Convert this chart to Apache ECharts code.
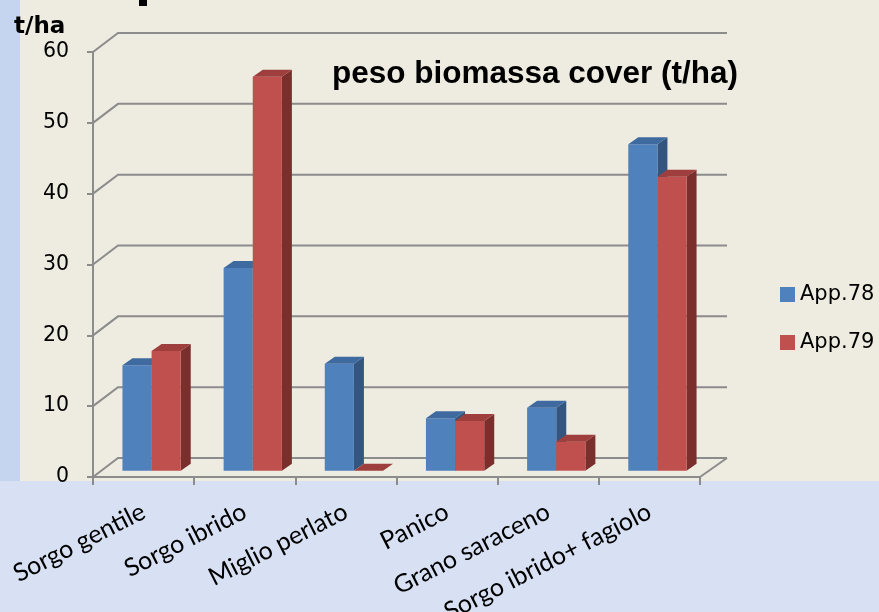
<!DOCTYPE html>
<html>
<head>
<meta charset="utf-8">
<script src="https://cdn.jsdelivr.net/npm/echarts@6/dist/echarts.min.js"></script>
<style>html,body{margin:0;padding:0;background:#EEEBE0;}#c{width:879px;height:612px;}</style>
</head>
<body>
<div id="c"></div>
<script>
const categories = ['Sorgo gentile', 'Sorgo ibrido', 'Miglio perlato', 'Panico', 'Grano saraceno', 'Sorgo ibrido+ fagiolo'];
const app78 = [14.9, 28.6, 15.1, 7.4, 8.9, 46.1];
const app79 = [16.9, 55.6, 0, 7.0, 4.1, 41.5];
const yTicks = [0, 10, 20, 30, 40, 50, 60];
const seriesNames = ['App.78', 'App.79'];

const WALL_DX = 25, WALL_DY = -19, WALL_END_DX = 27;
const BAR_FX = 8, BAR_FY = -6.3, BAR_DX = 10, BAR_DY = -7;
const GRID_COLOR = '#8C8C8C';
const faces = [
  {front: '#4F81BD', top: '#3E6A9F', side: '#33557F'},
  {front: '#C0504D', top: '#9E3F3D', side: '#7A2F2D'}
];

function wallRender(params, api) {
  const cs = params.coordSys;
  const v = api.value(1);
  const y = api.coord([0, v])[1];
  const x0 = cs.x, x1 = cs.x + cs.width;
  const children = [{
    type: 'polyline',
    shape: {points: [[x0, y], [x0 + WALL_DX, y + WALL_DY], [x1 + WALL_END_DX, y + WALL_DY]]},
    style: {stroke: GRID_COLOR, lineWidth: 2, fill: null}
  }];
  if (v === 0) {
    children.push({
      type: 'line',
      shape: {x1: x1, y1: y, x2: x1 + WALL_END_DX, y2: y + WALL_DY},
      style: {stroke: GRID_COLOR, lineWidth: 2}
    });
  }
  return {type: 'group', children: children};
}

function barRender(s) {
  return function (params, api) {
    const i = api.value(0), v = api.value(1);
    const band = api.size([1, 0])[0];
    const c = api.coord([i, v]);
    const b = api.coord([i, 0]);
    const bw = band * 0.288;
    const pc = c[0] + BAR_FX;
    const x0 = s === 0 ? pc - bw : pc;
    const x1 = x0 + bw;
    const yT = c[1] + BAR_FY;
    const yB = b[1] + BAR_FY;
    const f = faces[s];
    return {
      type: 'group',
      children: [
        {type: 'polygon', shape: {points: [[x1, yT], [x1 + BAR_DX, yT + BAR_DY], [x1 + BAR_DX, yB + BAR_DY], [x1, yB]]}, style: {fill: f.side}},
        {type: 'rect', shape: {x: x0, y: yT, width: bw, height: Math.max(0, yB - yT)}, style: {fill: f.front}},
        {type: 'polygon', shape: {points: [[x0, yT], [x1, yT], [x1 + BAR_DX, yT + BAR_DY], [x0 + BAR_DX, yT + BAR_DY]]}, style: {fill: f.top}}
      ]
    };
  };
}

const chart = echarts.init(document.getElementById('c'), null, {renderer: 'canvas'});
chart.setOption({
  animation: false,
  backgroundColor: '#EEEBE0',
  graphic: [
    {type: 'rect', z: -10, shape: {x: 0, y: 0, width: 20, height: 481}, style: {fill: '#C5D4EF'}},
    {type: 'rect', z: -10, shape: {x: 0, y: 481, width: 879, height: 131}, style: {fill: '#D8E1F3'}},
    {type: 'rect', z: 5, shape: {x: 139, y: 0, width: 8, height: 6}, style: {fill: '#000'}},
    {type: 'text', z: 5, x: 14, y: 27, style: {text: 't/ha', font: 'bold 23px "DejaVu Sans"', fill: '#000', textVerticalAlign: 'middle'}},
    {type: 'text', z: 5, x: 535, y: 74, style: {text: 'peso biomassa cover (t/ha)', font: 'bold 31.5px "Liberation Sans"', fill: '#000', textAlign: 'center', textVerticalAlign: 'middle'}}
  ],
  legend: {
    orient: 'vertical',
    left: 780,
    top: 284,
    padding: 0,
    itemGap: 27,
    itemWidth: 15,
    itemHeight: 15,
    icon: 'rect',
    data: seriesNames,
    textStyle: {fontFamily: 'DejaVu Sans', fontSize: 21, color: '#000'}
  },
  grid: {left: 93, right: 179, top: 52, bottom: 135, containLabel: false, outerBoundsMode: 'none'},
  xAxis: {
    type: 'category',
    data: categories,
    boundaryGap: true,
    axisLine: {lineStyle: {color: GRID_COLOR, width: 2}},
    axisTick: {show: true, length: 8, inside: false, lineStyle: {color: GRID_COLOR, width: 2}},
    axisLabel: {rotate: 27, margin: 33, interval: 0, fontFamily: 'Lato', fontSize: 25, color: '#000'},
    splitLine: {show: false}
  },
  yAxis: {
    type: 'value',
    min: 0, max: 60, interval: 10,
    axisLine: {show: true, lineStyle: {color: GRID_COLOR, width: 2}},
    axisTick: {show: true, length: 6, lineStyle: {color: GRID_COLOR, width: 2}},
    axisLabel: {margin: 24, fontFamily: 'DejaVu Sans', fontSize: 20.5, color: '#000'},
    splitLine: {show: false}
  },
  series: [
    {
      type: 'custom', name: 'walls', z: 1, silent: true,
      renderItem: wallRender,
      data: yTicks.map(v => [0, v]),
      encode: {x: 0, y: 1}
    },
    {
      type: 'custom', name: seriesNames[0], z: 3,
      itemStyle: {color: faces[0].front},
      renderItem: barRender(0),
      data: app78.map((v, i) => [i, v]),
      encode: {x: 0, y: 1}
    },
    {
      type: 'custom', name: seriesNames[1], z: 3,
      itemStyle: {color: faces[1].front},
      renderItem: barRender(1),
      data: app79.map((v, i) => [i, v]),
      encode: {x: 0, y: 1}
    }
  ]
});
</script>
</body>
</html>
